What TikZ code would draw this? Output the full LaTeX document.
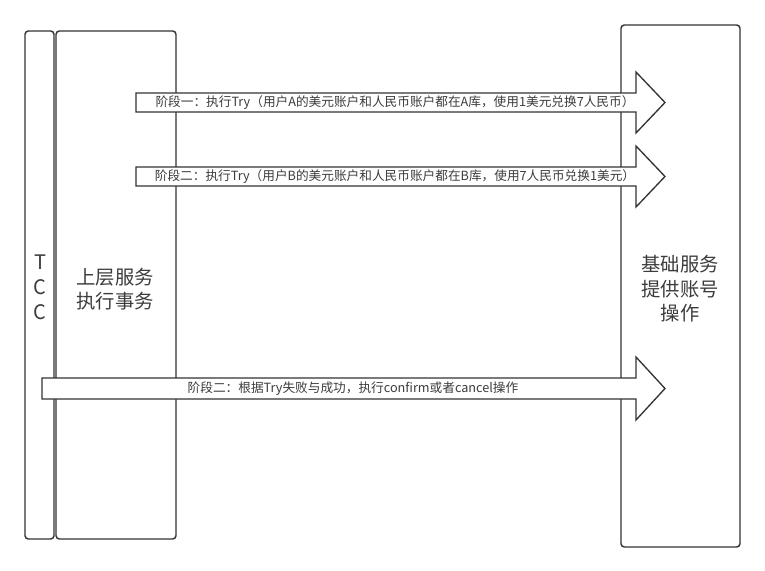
\documentclass[tikz,border=0pt]{standalone}
\usepackage{fontspec}
\setmainfont{Noto Sans CJK SC}
\usepackage{tikz}
\definecolor{linegray}{HTML}{333333}
\definecolor{textgray}{HTML}{3C3C3C}

\begin{document}
\begin{tikzpicture}[x = 0.75pt, y = -0.75pt, line width = 1.1pt]
    \useasboundingbox (0, 0) rectangle (765, 571);
    \tikzset{lane/.style = {draw = linegray, fill = white, rounded corners = 2.5pt},
             bigarrow/.style = {draw = linegray, fill = white, line width = 1pt, line join = miter},
             boxtext/.style = {textgray, align = center, font = \fontsize{14.5}{18}\selectfont},
             arrowtext/.style = {textgray, font = \fontsize{9.5}{11}\selectfont}}
    % lanes
    \filldraw [lane] (25, 31) rectangle (54, 539);
    \filldraw [lane] (56, 31) rectangle (176, 539);
    \filldraw [lane] (621, 25) rectangle (740, 547);
    \node [boxtext, font = \fontsize{15}{18.75}\selectfont] (tcc) at (40, 287) {T\\C\\C};
    \node [boxtext] (upper) at (115, 289) {上层服务\\执行事务};
    \node [boxtext, font = \fontsize{14.5}{18.4}\selectfont] (base) at (680, 289) {基础服务\\提供账号\\操作};
    % phase arrows
    \filldraw [bigarrow] (136, 93) -- (636, 93) -- (636, 72) -- (665, 102.5) -- (636, 133) -- (636, 112) -- (136, 112) -- cycle;
    \node [arrowtext] (phase1) at (395, 102.5) {阶段一：执行Try（用户A的美元账户和人民币账户都在A库，使用1美元兑换7人民币）};
    \filldraw [bigarrow] (136, 167) -- (636, 167) -- (636, 146) -- (665, 176.5) -- (636, 207) -- (636, 186) -- (136, 186) -- cycle;
    \node [arrowtext] (phase2) at (395, 176.5) {阶段二：执行Try（用户B的美元账户和人民币账户都在B库，使用7人民币兑换1美元）};
    \filldraw [bigarrow] (42, 378) -- (636, 378) -- (636, 357) -- (665, 388.5) -- (636, 420) -- (636, 399) -- (42, 399) -- cycle;
    \node [arrowtext] (phase3) at (353, 388.5) {阶段二：根据Try失败与成功，执行confirm或者cancel操作};
\end{tikzpicture}
\end{document}
